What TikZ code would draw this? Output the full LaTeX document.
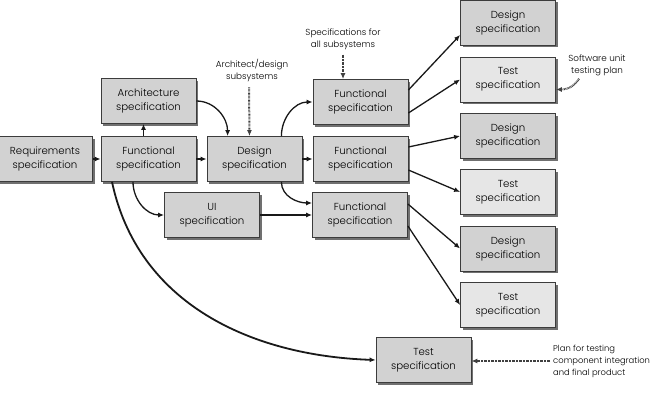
\documentclass[tikz,border=0pt]{standalone}
\usepackage{fontspec}
\setmainfont{Poppins}[UprightFont=* Light]
\usetikzlibrary{arrows.meta,shadows,calc}
\definecolor{boxdark}{HTML}{D2D2D2}
\definecolor{boxlight}{HTML}{E6E6E6}
\definecolor{edge}{HTML}{3C3C3C}
\definecolor{shade}{HTML}{707070}
\tikzset{
  specbox/.style={draw=edge, line width=0.8pt, fill=boxdark, minimum width=95pt, minimum height=45pt,
    align=center, inner sep=1pt, font=\fontsize{10.2}{14}\selectfont,
    drop shadow={shadow xshift=2.2pt, shadow yshift=-2.2pt, fill=shade, opacity=1}},
  testbox/.style={specbox, fill=boxlight},
  arr/.style={line width=1.3pt, draw=black!90, -{Latex[length=6pt,width=5pt]}},
  thickarr/.style={arr, line width=1.8pt},
  dotarr/.style={line width=2pt, draw=black!75, dash pattern=on 0.7pt off 0.7pt, -{Latex[length=6pt,width=5pt]}},
  note/.style={align=center, font=\fontsize{8.8}{12}\selectfont, inner sep=1pt}
}
\begin{document}
\begin{tikzpicture}[x=1pt,y=-1pt]
\useasboundingbox (0,0) rectangle (652,406);
\fill[white] (0,0) rectangle (652,406);
% boxes
\node[specbox] (req)  at (45,159)    {Requirements\\specification};
\node[specbox] (f1)   at (148.5,159) {Functional\\specification};
\node[specbox] (arch) at (148.5,101) {Architecture\\specification};
\node[specbox] (des)  at (254.5,159) {Design\\specification};
\node[specbox] (ui)   at (212,215)   {UI\\specification};
\node[specbox] (ft)   at (360.5,102) {Functional\\specification};
\node[specbox] (fm)   at (360.5,159) {Functional\\specification};
\node[specbox] (fb)   at (360,215)   {Functional\\specification};
\node[specbox] (d1)   at (508,22.5)  {Design\\specification};
\node[testbox] (t1)   at (508,79.5)  {Test\\specification};
\node[specbox] (d2)   at (508,136)   {Design\\specification};
\node[testbox] (t2)   at (508,192)   {Test\\specification};
\node[specbox] (d3)   at (508,248.5) {Design\\specification};
\node[testbox] (t3)   at (508,305)   {Test\\specification};
\node[specbox] (tb)   at (423.5,360) {Test\\specification};
% notes
\node[note] (n1) at (343,39)  {Specifications for\\all subsystems};
\node[note] (n2) at (252,70)  {Architect/design\\subsystems};
\node[note] (n3) at (597,65)  {Software unit\\testing plan};
\node[note, align=left, anchor=west, font=\fontsize{8.4}{12}\selectfont] (n4) at (552,361) {Plan for testing\\component integration\\and final product};
% connectors
\draw[arr] (req) -- (f1);
\draw[arr] ([xshift=-5pt]f1.north) -- ([xshift=-5pt]arch.south);
\draw[arr] (f1) -- (des);
\draw[arr] (arch.east) to[out=0,in=90] ([xshift=21pt]des.north west);
\draw[arr] ([xshift=-21pt]des.north east) to[out=90,in=180] (ft.west);
\draw[arr] (des) -- (fm);
\draw[arr] ([xshift=-21pt]des.south east) to[out=-90,in=180] ([yshift=12pt]fb.west);
\draw[arr] ([xshift=-15.5pt]f1.south) to[out=-90,in=180] (ui.west);
\draw[thickarr] (ui) -- (fb);
\draw[thickarr] ([xshift=-36.5pt]f1.south) to[out=-78,in=178] (tb.west);
\draw[arr] ([yshift=12pt]ft.east) -- ([yshift=-12.5pt]d1.west);
\draw[arr] ([yshift=-11pt]ft.east) -- (t1.west);
\draw[arr] ([yshift=12pt]fm.east) -- (d2.west);
\draw[arr] ([yshift=-11pt]fm.east) -- (t2.west);
\draw[arr] ([yshift=11pt]fb.east) -- (d3.west);
\draw[arr] ([yshift=-11pt]fb.east) -- (t3.west);
% dotted inputs
\draw[dotarr] ([yshift=-4pt]n1.south) -- ([xshift=-17.5pt]ft.north);
\draw[dotarr] ([xshift=-3pt,yshift=-5pt]n2.south) -- ([xshift=-5pt]des.north);
\draw[dotarr] ([xshift=-18pt,yshift=-2pt]n3.south) to[out=-120,in=0] ([yshift=-10pt]t1.east);
\draw[dotarr] ([xshift=-2pt]n4.west) -- (tb.east |- n4.west);
\end{tikzpicture}
\end{document}
